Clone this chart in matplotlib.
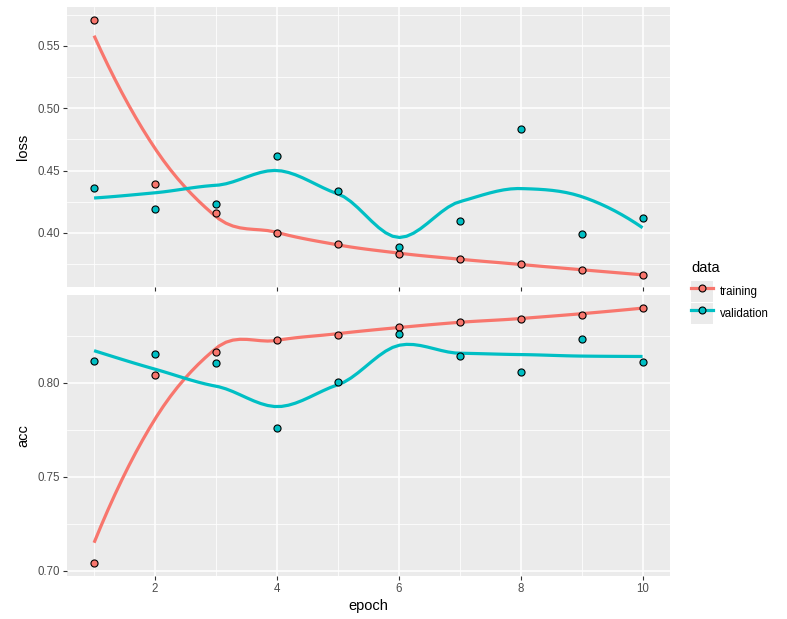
import numpy as np
import matplotlib
matplotlib.use("Agg")
import matplotlib.pyplot as plt
from matplotlib.lines import Line2D
from matplotlib.patches import Rectangle
from matplotlib.legend_handler import HandlerTuple

plt.rcParams["font.family"] = ["Liberation Sans", "DejaVu Sans"]

epochs = [1, 2, 3, 4, 5, 6, 7, 8, 9, 10]
loss_training = [0.5711, 0.4393, 0.4158, 0.4000, 0.3912, 0.3831, 0.3794, 0.3749, 0.3706, 0.3663]
loss_validation = [0.4359, 0.4193, 0.4233, 0.4616, 0.4340, 0.3890, 0.4096, 0.4837, 0.3992, 0.4118]
acc_training = [0.7044, 0.8041, 0.8163, 0.8229, 0.8252, 0.8298, 0.8321, 0.8337, 0.8362, 0.8399]
acc_validation = [0.8117, 0.8154, 0.8103, 0.7761, 0.8004, 0.8259, 0.8144, 0.8057, 0.8232, 0.8110]
series_names = ["training", "validation"]
colors = ["#F8766D", "#00BFC4"]


def local_fit(x, y, x0, q, degree=2):
    d = np.abs(x - x0)
    h = np.sort(d)[q - 1] * 1.0000001
    u = np.clip(d / h, 0, 1)
    w = (1 - u ** 3) ** 3
    c = np.polyfit(x - x0, y, degree, w=np.sqrt(w))
    return c[-1], c[-2]  # value, slope


def kd_vertices(xsorted, fc, lo, hi):
    cuts = []

    def split(l, u, vlo, vhi):
        if u - l + 1 <= fc:
            return
        m = (l + u) // 2
        t = xsorted[m]
        if t == vlo or t == vhi:
            return
        cuts.append(t)
        split(l, m, vlo, t)
        split(m + 1, u, t, vhi)

    split(0, len(xsorted) - 1, lo, hi)
    return sorted(set(cuts))


def loess(x, y, xs, span=0.75, degree=2, cell=0.2):
    # loess with kd-tree vertices and cubic Hermite interpolation (as R)
    x = np.asarray(x, float)
    y = np.asarray(y, float)
    n = len(x)
    q = int(np.floor(n * span))
    fc = int(np.floor(n * span * cell))
    xsorted = np.sort(x)
    rng = xsorted[-1] - xsorted[0]
    marg = 0.005 * rng
    lo, hi = xsorted[0] - marg, xsorted[-1] + marg
    verts = np.array([lo] + kd_vertices(xsorted, fc, lo, hi) + [hi])
    vals = np.array([local_fit(x, y, v, q, degree) for v in verts])
    out = []
    for x0 in xs:
        i = np.searchsorted(verts, x0, side="right") - 1
        i = min(max(i, 0), len(verts) - 2)
        x_a, x_b = verts[i], verts[i + 1]
        hseg = x_b - x_a
        t = (x0 - x_a) / hseg
        h00 = 2 * t ** 3 - 3 * t ** 2 + 1
        h10 = t ** 3 - 2 * t ** 2 + t
        h01 = -2 * t ** 3 + 3 * t ** 2
        h11 = t ** 3 - t ** 2
        out.append(h00 * vals[i, 0] + h10 * hseg * vals[i, 1]
                   + h01 * vals[i + 1, 0] + h11 * hseg * vals[i + 1, 1])
    return np.array(out)


fig = plt.figure(figsize=(7.87, 6.19), dpi=100)
ax1 = fig.add_axes([0.0847, 0.5359, 0.7666, 0.4533])
ax2 = fig.add_axes([0.0847, 0.0700, 0.7666, 0.4534])

panels = [
    (ax1, [loss_training, loss_validation], (0.3564, 0.5815),
     [0.40, 0.45, 0.50, 0.55], [0.375, 0.425, 0.475, 0.525, 0.575], "loss"),
    (ax2, [acc_training, acc_validation], (0.6975, 0.8466),
     [0.70, 0.75, 0.80], [0.725, 0.775, 0.825], "acc"),
]

xs = np.linspace(1, 10, 80)
for ax, series, ylim, yt, ymin, label in panels:
    ax.set_facecolor("#EBEBEB")
    for s in ax.spines.values():
        s.set_visible(False)
    ax.set_xlim(0.55, 10.45)
    ax.set_ylim(*ylim)
    ax.set_yticks(yt)
    ax.set_yticklabels(["%.2f" % v for v in yt])
    ax.set_yticks(ymin, minor=True)
    ax.set_xticks([2, 4, 6, 8, 10])
    ax.set_xticks([1, 3, 5, 7, 9], minor=True)
    ax.grid(True, which="major", color="white", lw=1.1)
    ax.grid(True, which="minor", color="white", lw=0.55)
    ax.set_axisbelow(True)
    ax.tick_params(which="major", length=3, width=0.8, color="#333333",
                   labelsize=8.3, labelcolor="#4D4D4D", pad=2)
    ax.tick_params(which="minor", length=0)
    for vals, col in zip(series, colors):
        ax.plot(xs, loess(epochs, vals, xs), color=col, lw=2.3, zorder=3,
                solid_capstyle="butt")
    for vals, col in zip(series, colors):
        ax.scatter(epochs, vals, s=26, facecolor=col, edgecolor="black",
                   linewidth=0.8, zorder=4)
    ax.set_ylabel(label, fontsize=10.5, color="black", labelpad=5)

ax1.tick_params(axis="x", labelbottom=False)
ax2.set_xlabel("epoch", fontsize=10.5, labelpad=3)
fig.align_ylabels([ax1, ax2])

handles = []
for col in colors:
    bg = Rectangle((0, 0), 1, 1, facecolor="#EBEBEB", edgecolor="none")
    ln = Line2D([], [], color=col, lw=2.3, marker="o", markersize=5,
                markerfacecolor=col, markeredgecolor="black", markeredgewidth=0.8)
    handles.append((bg, ln))
leg = fig.legend(handles, series_names, handler_map={tuple: HandlerTuple(ndivide=1)},
                 loc="upper left", bbox_to_anchor=(0.8785, 0.578), frameon=False,
                 title="data", fontsize=8.3, title_fontsize=10.5, handlelength=1.9,
                 handleheight=2.4, handletextpad=0.6, labelspacing=0.12,
                 borderaxespad=0, borderpad=0)
leg._legend_box.align = "left"
leg._legend_box.sep = 4

fig.savefig("out.png", dpi=100)
